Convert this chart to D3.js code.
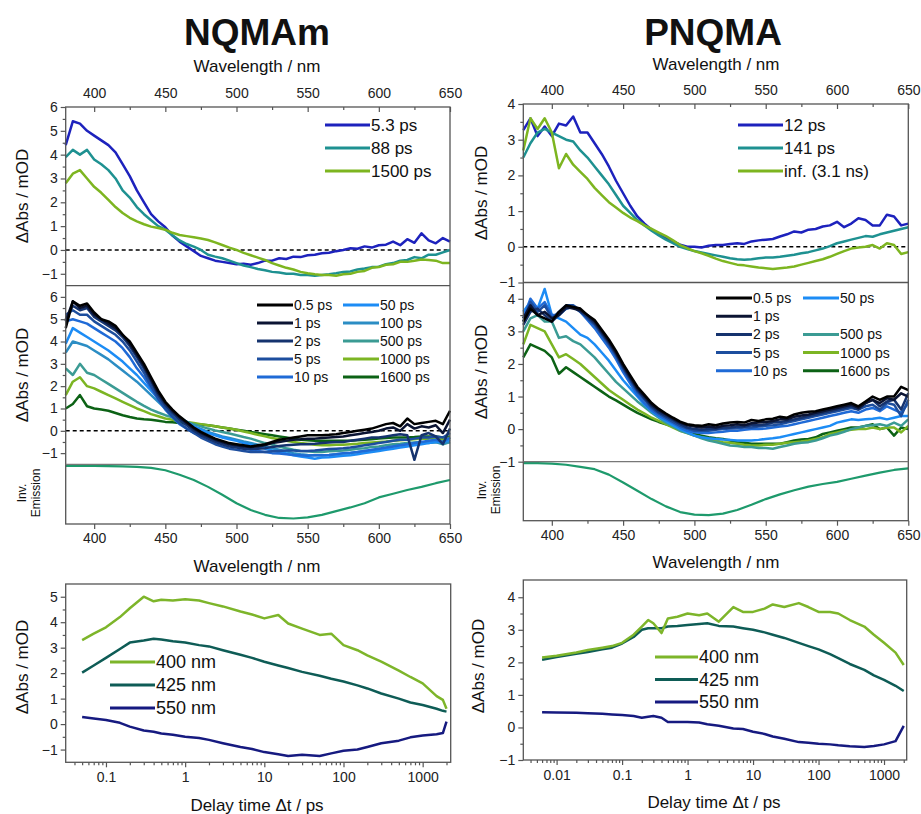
<!DOCTYPE html>
<html>
<head>
<meta charset="utf-8">
<script src="https://cdn.jsdelivr.net/npm/d3@7"></script>
<style>
body { margin: 0; background: #fff; }
svg { font-family: "Liberation Sans", Arial, sans-serif; }
.axis line { stroke: #555; stroke-width: 1.2; }
.axis text { fill: #222; font-size: 14px; font-family: "Liberation Sans", Arial, sans-serif; }
</style>
</head>
<body>
<svg width="921" height="814"></svg>
<script>
// wavelength grid (nm)
const wl = [380,385,390,395,400,405,410,415,420,425,430,435,440,445,450,455,460,465,470,475,480,485,490,495,500,505,510,515,520,525,530,535,540,545,550,555,560,565,570,575,580,585,590,595,600,605,610,615,620,625,630,635,640,645,650];
const wlEm = [380,390,400,410,420,430,440,450,460,470,480,490,500,510,520,530,540,550,560,570,580,590,600,610,620,630,640,650];

// NQMAm, decay associated spectra
const nqDas5_3 = [4.4,5.4,5.3,5.0,4.8,4.6,4.4,4.1,3.6,3.1,2.5,2.0,1.5,1.2,0.95,0.6,0.35,0.15,-0.05,-0.25,-0.35,-0.45,-0.5,-0.55,-0.6,-0.58,-0.62,-0.55,-0.45,-0.45,-0.35,-0.38,-0.28,-0.3,-0.22,-0.2,-0.14,-0.12,-0.05,0.0,0.07,0.05,0.15,0.1,0.2,0.22,0.35,0.2,0.45,0.3,0.7,0.4,0.28,0.5,0.35];
const nqDas88 = [3.9,4.2,4.0,4.2,3.8,3.6,3.35,3.0,2.5,2.2,1.8,1.5,1.25,1.0,0.85,0.62,0.4,0.25,0.14,0.0,-0.2,-0.28,-0.35,-0.45,-0.55,-0.65,-0.72,-0.8,-0.85,-0.92,-0.95,-1.0,-1.0,-1.05,-1.05,-1.08,-1.05,-1.02,-0.98,-0.92,-0.9,-0.82,-0.78,-0.72,-0.7,-0.6,-0.55,-0.45,-0.42,-0.3,-0.35,-0.2,-0.2,-0.1,0.0];
const nqDas1500 = [2.8,3.2,3.35,3.0,2.65,2.4,2.1,1.8,1.55,1.35,1.2,1.08,0.98,0.92,0.85,0.72,0.63,0.58,0.53,0.48,0.42,0.32,0.21,0.1,0.0,-0.12,-0.22,-0.32,-0.42,-0.55,-0.65,-0.75,-0.82,-0.92,-0.98,-1.02,-1.05,-1.05,-1.08,-1.02,-1.0,-0.92,-0.88,-0.75,-0.72,-0.62,-0.6,-0.5,-0.5,-0.45,-0.4,-0.42,-0.45,-0.55,-0.55];

// PNQMA, decay associated spectra
const pqDas12 = [3.27,3.6,3.1,3.37,3.1,3.45,3.4,3.65,3.2,3.2,2.9,2.6,2.25,1.85,1.5,1.15,0.85,0.65,0.48,0.35,0.24,0.15,0.06,0.0,0.0,-0.02,0.03,0.05,0.05,0.08,0.1,0.08,0.15,0.18,0.2,0.22,0.29,0.35,0.43,0.4,0.48,0.5,0.57,0.6,0.7,0.55,0.65,0.8,0.75,0.6,0.6,0.9,0.85,0.6,0.65];
const pqDas141 = [2.5,2.9,3.2,3.3,3.2,3.1,3.0,2.95,2.7,2.5,2.25,2.0,1.75,1.45,1.15,0.95,0.75,0.6,0.45,0.32,0.2,0.1,0.0,-0.06,-0.12,-0.16,-0.2,-0.24,-0.28,-0.32,-0.35,-0.36,-0.35,-0.32,-0.3,-0.3,-0.28,-0.25,-0.22,-0.18,-0.15,-0.1,-0.05,0.02,0.1,0.15,0.2,0.25,0.3,0.28,0.35,0.4,0.45,0.5,0.55];
const pqDasInf = [2.7,3.6,3.3,3.6,3.2,2.2,2.6,2.3,2.1,1.9,1.65,1.45,1.25,1.1,0.95,0.82,0.72,0.6,0.5,0.4,0.3,0.18,0.05,-0.04,-0.12,-0.18,-0.25,-0.33,-0.4,-0.45,-0.5,-0.52,-0.55,-0.58,-0.6,-0.62,-0.6,-0.58,-0.55,-0.5,-0.45,-0.4,-0.35,-0.28,-0.2,-0.12,-0.05,-0.02,0.0,0.05,-0.05,0.1,0.05,-0.2,-0.15];

// NQMAm, transient spectra
const nq0_5 = [4.6,5.8,5.6,5.7,5.3,5.0,4.9,4.7,4.3,4.0,3.5,3.0,2.4,1.8,1.3,0.95,0.65,0.4,0.15,-0.05,-0.2,-0.35,-0.45,-0.55,-0.6,-0.65,-0.7,-0.65,-0.6,-0.5,-0.4,-0.35,-0.3,-0.25,-0.2,-0.2,-0.2,-0.18,-0.15,-0.1,-0.05,0.0,0.05,0.1,0.2,0.3,0.35,0.2,0.55,0.3,0.35,0.4,0.45,0.3,0.9];
const nq1 = [4.9,5.8,5.5,5.6,5.2,5.0,4.8,4.6,4.3,3.9,3.4,2.9,2.3,1.7,1.25,0.9,0.6,0.35,0.1,-0.1,-0.25,-0.4,-0.5,-0.6,-0.65,-0.7,-0.72,-0.7,-0.65,-0.55,-0.5,-0.45,-0.4,-0.38,-0.35,-0.35,-0.32,-0.3,-0.28,-0.25,-0.2,-0.15,-0.1,-0.05,0.0,0.1,0.15,0.0,0.3,0.1,0.2,0.15,0.25,-0.1,0.5];
const nq2 = [5.0,5.6,5.4,5.5,5.1,4.9,4.7,4.5,4.2,3.8,3.3,2.8,2.2,1.6,1.15,0.8,0.5,0.25,0.0,-0.2,-0.35,-0.5,-0.6,-0.7,-0.75,-0.8,-0.82,-0.8,-0.78,-0.72,-0.68,-0.65,-0.62,-0.6,-0.6,-0.58,-0.55,-0.52,-0.5,-0.5,-0.45,-0.4,-0.35,-0.3,-0.3,-0.25,-0.2,-0.15,-0.2,-1.3,-0.2,-0.1,-0.25,-0.6,0.1];
const nq5 = [5.2,5.4,5.2,5.2,4.9,4.7,4.5,4.3,4.0,3.6,3.1,2.6,2.0,1.45,1.0,0.65,0.35,0.1,-0.1,-0.3,-0.45,-0.6,-0.7,-0.8,-0.85,-0.9,-0.95,-0.95,-0.95,-0.92,-0.9,-0.88,-0.88,-0.9,-0.9,-0.88,-0.85,-0.82,-0.8,-0.78,-0.75,-0.7,-0.65,-0.6,-0.55,-0.5,-0.45,-0.4,-0.4,-0.35,-0.3,-0.3,-0.25,-0.3,-0.1];
const nq10 = [4.9,5.0,4.9,4.8,4.6,4.4,4.2,4.0,3.7,3.3,2.8,2.4,1.9,1.4,0.95,0.6,0.3,0.1,-0.1,-0.2,-0.3,-0.42,-0.5,-0.6,-0.7,-0.78,-0.85,-0.9,-0.95,-1.0,-1.02,-1.05,-1.08,-1.1,-1.12,-1.1,-1.1,-1.08,-1.05,-1.0,-0.98,-0.95,-0.9,-0.85,-0.8,-0.75,-0.7,-0.65,-0.6,-0.55,-0.5,-0.45,-0.4,-0.5,-0.3];
const nq50 = [3.9,4.6,4.4,4.2,4.0,3.8,3.6,3.35,3.1,2.8,2.5,2.15,1.8,1.45,1.1,0.85,0.6,0.4,0.2,0.05,-0.1,-0.2,-0.3,-0.38,-0.45,-0.55,-0.62,-0.7,-0.8,-0.88,-0.95,-1.02,-1.1,-1.15,-1.2,-1.25,-1.2,-1.18,-1.15,-1.12,-1.1,-1.05,-1.0,-0.95,-0.9,-0.85,-0.8,-0.75,-0.7,-0.65,-0.6,-0.55,-0.5,-0.5,-0.4];
const nq100 = [3.5,4.0,3.9,3.8,3.6,3.4,3.2,2.95,2.7,2.45,2.2,1.9,1.6,1.3,1.0,0.75,0.55,0.35,0.2,0.08,-0.05,-0.15,-0.25,-0.32,-0.4,-0.48,-0.55,-0.62,-0.7,-0.78,-0.85,-0.92,-1.0,-1.05,-1.08,-1.1,-1.1,-1.08,-1.05,-1.02,-1.0,-0.95,-0.9,-0.88,-0.85,-0.78,-0.7,-0.65,-0.6,-0.58,-0.55,-0.52,-0.5,-0.55,-0.5];
const nq500 = [2.8,2.5,3.0,2.6,2.5,2.3,2.1,1.9,1.7,1.5,1.3,1.12,0.95,0.82,0.7,0.6,0.5,0.4,0.3,0.2,0.1,0.02,-0.05,-0.12,-0.2,-0.28,-0.35,-0.45,-0.55,-0.62,-0.7,-0.78,-0.85,-0.9,-0.92,-0.95,-0.95,-0.92,-0.9,-0.88,-0.85,-0.8,-0.78,-0.72,-0.7,-0.65,-0.6,-0.58,-0.55,-0.52,-0.5,-0.55,-0.5,-0.6,-0.5];
const nq1000 = [1.6,2.2,2.4,2.0,1.9,1.75,1.6,1.45,1.3,1.15,1.0,0.88,0.75,0.65,0.55,0.5,0.45,0.4,0.35,0.3,0.25,0.2,0.15,0.1,0.05,-0.03,-0.1,-0.18,-0.25,-0.32,-0.38,-0.45,-0.5,-0.55,-0.58,-0.62,-0.65,-0.65,-0.62,-0.62,-0.6,-0.58,-0.55,-0.52,-0.5,-0.48,-0.45,-0.42,-0.4,-0.38,-0.35,-0.35,-0.3,-0.4,-0.3];
const nq1600 = [1.0,1.2,1.6,1.1,1.0,0.95,0.9,0.8,0.7,0.62,0.55,0.52,0.5,0.45,0.4,0.38,0.35,0.32,0.3,0.28,0.25,0.2,0.15,0.1,0.05,0.0,-0.05,-0.1,-0.15,-0.2,-0.25,-0.3,-0.35,-0.4,-0.42,-0.45,-0.45,-0.45,-0.45,-0.45,-0.45,-0.42,-0.4,-0.38,-0.35,-0.32,-0.3,-0.3,-0.3,-0.28,-0.25,-0.25,-0.25,-0.3,-0.25];

// PNQMA, transient spectra
const pq0_5 = [3.3,3.7,3.5,3.4,3.3,3.6,3.8,3.75,3.7,3.5,3.35,3.05,2.75,2.4,2.0,1.65,1.3,1.05,0.8,0.62,0.48,0.35,0.23,0.15,0.12,0.1,0.15,0.12,0.17,0.2,0.22,0.2,0.28,0.25,0.3,0.32,0.38,0.35,0.45,0.5,0.53,0.55,0.6,0.65,0.7,0.75,0.8,0.7,0.85,1.0,0.9,1.0,1.0,1.3,1.2];
const pq1 = [3.4,3.8,3.5,3.6,3.4,3.5,3.75,3.7,3.65,3.5,3.3,3.0,2.7,2.35,1.95,1.6,1.25,1.0,0.75,0.58,0.45,0.32,0.2,0.12,0.08,0.05,0.08,0.05,0.1,0.12,0.15,0.12,0.18,0.2,0.22,0.25,0.3,0.3,0.38,0.42,0.45,0.5,0.55,0.6,0.65,0.7,0.75,0.65,0.8,0.9,0.8,0.95,0.9,1.1,1.0];
const pq2 = [3.2,3.6,3.7,3.5,3.3,3.5,3.7,3.75,3.6,3.45,3.25,2.95,2.65,2.3,1.9,1.55,1.2,0.95,0.7,0.52,0.4,0.28,0.15,0.05,0.0,-0.02,0.0,0.0,0.05,0.05,0.08,0.08,0.12,0.12,0.15,0.2,0.22,0.25,0.3,0.35,0.4,0.45,0.5,0.55,0.6,0.65,0.7,0.6,0.8,0.9,0.7,0.85,0.9,0.6,1.1];
const pq5 = [3.3,3.9,3.6,3.8,3.4,3.6,3.8,3.8,3.65,3.4,3.2,2.9,2.6,2.25,1.85,1.5,1.15,0.9,0.65,0.48,0.35,0.22,0.1,0.02,-0.05,-0.05,-0.05,-0.02,0.0,0.02,0.03,0.05,0.05,0.08,0.1,0.12,0.15,0.2,0.25,0.3,0.35,0.4,0.45,0.5,0.55,0.6,0.65,0.6,0.7,0.75,0.6,0.8,0.75,0.4,0.9];
const pq10 = [3.4,4.0,3.7,3.9,3.5,3.5,3.7,3.75,3.6,3.35,3.1,2.8,2.5,2.15,1.75,1.4,1.05,0.8,0.58,0.42,0.3,0.18,0.05,-0.05,-0.1,-0.12,-0.12,-0.1,-0.08,-0.05,-0.05,-0.02,0.0,0.0,0.02,0.05,0.08,0.1,0.15,0.2,0.25,0.3,0.35,0.4,0.45,0.5,0.55,0.5,0.6,0.65,0.55,0.7,0.6,0.5,0.8];
const pq50 = [3.6,3.9,3.7,4.3,3.5,3.4,3.3,3.1,2.9,2.8,2.6,2.35,2.1,1.8,1.5,1.25,1.0,0.75,0.55,0.38,0.25,0.12,0.0,-0.1,-0.2,-0.25,-0.28,-0.3,-0.32,-0.33,-0.35,-0.35,-0.35,-0.33,-0.3,-0.28,-0.25,-0.2,-0.15,-0.1,-0.05,0.0,0.05,0.1,0.2,0.25,0.3,0.28,0.3,0.32,0.35,0.3,0.35,0.4,0.4];
const pq500 = [3.0,3.4,3.5,3.3,3.3,2.8,2.85,2.7,2.6,2.4,2.2,1.95,1.7,1.45,1.25,1.05,0.85,0.68,0.5,0.35,0.2,0.08,-0.05,-0.12,-0.2,-0.28,-0.35,-0.4,-0.45,-0.5,-0.52,-0.55,-0.55,-0.58,-0.58,-0.6,-0.55,-0.5,-0.45,-0.42,-0.4,-0.35,-0.28,-0.2,-0.15,-0.08,0.0,0.05,0.1,0.12,0.15,0.1,0.2,0.1,0.3];
const pq1000 = [2.6,3.2,3.1,3.0,2.6,2.2,2.3,2.15,2.0,1.8,1.6,1.4,1.2,1.05,0.9,0.75,0.6,0.48,0.35,0.25,0.15,0.05,-0.05,-0.12,-0.2,-0.25,-0.3,-0.35,-0.4,-0.42,-0.45,-0.48,-0.5,-0.5,-0.48,-0.48,-0.45,-0.42,-0.4,-0.38,-0.35,-0.3,-0.25,-0.15,-0.1,-0.05,-0.02,0.0,0.0,0.05,0.0,0.05,0.05,-0.1,0.1];
const pq1600 = [2.2,2.6,2.5,2.4,2.2,1.7,1.9,1.75,1.6,1.45,1.3,1.15,1.0,0.88,0.75,0.62,0.5,0.4,0.3,0.22,0.15,0.08,0.0,-0.08,-0.15,-0.2,-0.25,-0.28,-0.3,-0.35,-0.4,-0.42,-0.45,-0.45,-0.45,-0.45,-0.45,-0.4,-0.35,-0.32,-0.3,-0.25,-0.15,-0.1,-0.05,0.0,0.05,0.05,0.1,0.15,0.0,0.05,-0.2,0.05,0.0];

// inverted, normalised emission
const nqEmission = [0.0,0.0,0.0,0.005,0.01,0.02,0.04,0.085,0.17,0.27,0.4,0.55,0.71,0.84,0.93,0.99,1.0,0.98,0.93,0.86,0.79,0.71,0.6,0.53,0.46,0.4,0.33,0.27];
const pqEmission = [0.0,0.0,0.01,0.03,0.07,0.115,0.22,0.37,0.53,0.69,0.83,0.94,0.99,1.0,0.97,0.9,0.8,0.69,0.6,0.52,0.45,0.4,0.36,0.3,0.24,0.18,0.13,0.1];

// kinetics
const nqTimes = [0.05,0.07,0.1,0.15,0.2,0.3,0.4,0.5,0.7,1,1.5,2,3,5,7,10,15,20,30,50,70,100,150,200,300,500,700,1000,1500,1800,2000];
const nqK400 = [3.3,3.55,3.8,4.2,4.55,5.0,4.82,4.88,4.85,4.9,4.85,4.75,4.62,4.42,4.3,4.15,4.28,3.95,3.75,3.5,3.55,3.1,2.9,2.7,2.45,2.1,1.85,1.6,1.1,0.95,0.6];
const nqK425 = [2.02,2.3,2.6,2.95,3.2,3.28,3.35,3.32,3.25,3.2,3.1,3.05,2.9,2.72,2.6,2.45,2.3,2.2,2.05,1.9,1.78,1.67,1.52,1.4,1.2,1.0,0.85,0.75,0.6,0.52,0.49];
const nqK550 = [0.28,0.22,0.16,0.05,-0.1,-0.25,-0.3,-0.37,-0.42,-0.5,-0.55,-0.62,-0.75,-0.9,-0.98,-1.1,-1.18,-1.25,-1.2,-1.25,-1.15,-1.05,-1.0,-0.9,-0.75,-0.65,-0.52,-0.45,-0.4,-0.35,0.1];
const pqTimes = [0.006,0.01,0.02,0.03,0.05,0.07,0.1,0.15,0.2,0.25,0.3,0.4,0.5,0.7,1,1.5,2,3,5,7,10,15,20,30,50,70,100,150,200,300,500,700,1000,1500,2000];
const pqK400 = [2.15,2.2,2.3,2.38,2.45,2.5,2.6,2.85,3.1,3.3,3.2,2.9,3.35,3.4,3.5,3.45,3.5,3.25,3.7,3.55,3.55,3.65,3.78,3.7,3.82,3.7,3.55,3.55,3.5,3.3,3.1,2.85,2.6,2.3,1.92];
const pqK425 = [2.08,2.16,2.26,2.32,2.4,2.45,2.58,2.78,3.0,3.05,3.05,3.05,3.1,3.12,3.15,3.18,3.2,3.12,3.1,3.05,3.0,2.92,2.85,2.75,2.6,2.5,2.4,2.25,2.13,1.95,1.77,1.6,1.46,1.28,1.12];
const pqK550 = [0.47,0.46,0.45,0.44,0.42,0.4,0.38,0.35,0.3,0.33,0.35,0.3,0.17,0.17,0.17,0.15,0.1,0.05,-0.03,-0.05,-0.13,-0.2,-0.28,-0.35,-0.45,-0.47,-0.5,-0.52,-0.55,-0.58,-0.6,-0.57,-0.52,-0.42,0.05];

const col = {
    k0_5: "#000000", k1: "#0b1433", k2: "#15336e", k5: "#1d4e9e", k10: "#1f6ad6",
    k50: "#1c8cf5", k100: "#2b8dc4", k500: "#3b9b94", k1000: "#7cb523", k1600: "#0c6215",
    das1: "#1d22bd", das2: "#1e9191", das3: "#7db520", em: "#1e9a6c",
    l400: "#7db52a", l425: "#0e5c56", l550: "#161a80"
};

const svg = d3.select("svg");

const addAxis = (axis, tx, ty) => {
    const g = svg.append("g").attr("class", "axis")
        .attr("transform", "translate(" + tx + "," + ty + ")")
        .call(axis);
    g.select(".domain").remove();
    return g;
};

const hline = (x0, x1, y, color, w, dash) => {
    svg.append("line").attr("x1", x0).attr("x2", x1).attr("y1", y).attr("y2", y)
        .attr("stroke", color).attr("stroke-width", w)
        .attr("stroke-dasharray", dash || null);
};

const drawSeries = (x, y, xs, ys, color, w) => {
    const line = d3.line().x((d, i) => x(xs[i])).y(d => y(d));
    svg.append("path").datum(ys)
        .attr("fill", "none").attr("stroke", color)
        .attr("stroke-width", w || 2.5).attr("stroke-linejoin", "round")
        .attr("d", line);
};

const addText = (txt, x, y, size, opts = {}) => {
    const t = svg.append("text").attr("x", x).attr("y", y)
        .attr("font-size", size).attr("fill", "#111")
        .attr("text-anchor", opts.anchor || "middle")
        .attr("font-weight", opts.bold ? "bold" : null)
        .text(txt);
    if (opts.rotate) t.attr("transform", "rotate(-90," + x + "," + y + ")");
    return t;
};

const yLabel = (x, y) => addText("\u0394Abs / mOD", x, y, 17, { rotate: true });

const legend = (items, x, y, dy, len, size) => {
    items.forEach((it, i) => {
        if (!it) return;
        const yy = y + i * dy;
        svg.append("line").attr("x1", x).attr("x2", x + len).attr("y1", yy).attr("y2", yy)
            .attr("stroke", it[1]).attr("stroke-width", 3);
        addText(it[0], x + len + 1, yy + size * 0.36, size, { anchor: "start" });
    });
};

const yAxes = (y, x0, major, minor) => {
    addAxis(d3.axisLeft(y).tickValues(major).tickSize(5).tickPadding(3).tickFormat(d3.format("d")), x0, 0);
    addAxis(d3.axisLeft(y).tickValues(minor).tickSize(3).tickFormat(""), x0, 0);
};

// ---- wavelength columns ----
const spectraColumn = (c) => {
    const x = d3.scaleLinear().domain([380, 650]).range([c.x0, c.x1]);
    const yA = d3.scaleLinear().domain(c.domA).range([c.yB, c.yA]);
    const yB = d3.scaleLinear().domain(c.domB).range([c.yC, c.yB]);
    const yE = d3.scaleLinear().domain([0, 1]).range([c.yC + 1.5, c.yD - 5.5]);
    const majX = [400, 450, 500, 550, 600, 650];
    const minX = [425, 475, 525, 575, 625];

    // top axis (ticks inward)
    addAxis(d3.axisTop(x).tickValues(majX).tickSize(-5).tickPadding(9), 0, c.yA);
    addAxis(d3.axisTop(x).tickValues(minX).tickSize(-3).tickFormat(""), 0, c.yA);
    // bottom axis
    addAxis(d3.axisBottom(x).tickValues(majX).tickSize(5).tickPadding(4), 0, c.yD);
    addAxis(d3.axisBottom(x).tickValues(minX).tickSize(3).tickFormat(""), 0, c.yD);

    yAxes(yA, c.x0, c.majA, c.minA);
    yAxes(yB, c.x0, c.majB, c.minB);

    hline(c.x0, c.x1, yA(0), "#000", 1.5, "4,3");
    if (c.zeroB) hline(c.x0, c.x1, yB(0), "#000", 1.5, "4,3");

    c.seriesA.forEach(s => drawSeries(x, yA, wl, s[0], s[1]));
    c.seriesB.slice().reverse().forEach(s => drawSeries(x, yB, wl, s[0], s[1]));
    drawSeries(x, yE, wlEm, c.emission, col.em, 2.2);

    // frame
    svg.append("rect").attr("x", c.x0).attr("y", c.yA).attr("width", c.x1 - c.x0)
        .attr("height", c.yD - c.yA).attr("fill", "none").attr("stroke", "#555").attr("stroke-width", 1.3);
    hline(c.x0, c.x1, c.yB, "#555", 1.3);
    hline(c.x0, c.x1, c.yC, "#777", 1.3);
};

spectraColumn({
    x0: 65.7, x1: 450, yA: 107, yB: 285.7, yC: 464.3, yD: 524,
    domA: [-1.5, 6], domB: [-1.5, 6.5],
    majA: [-1, 0, 1, 2, 3, 4, 5, 6], majB: [-1, 0, 1, 2, 3, 4, 5, 6],
    minA: [-0.5, 0.5, 1.5, 2.5, 3.5, 4.5, 5.5], minB: [-0.5, 0.5, 1.5, 2.5, 3.5, 4.5, 5.5],
    zeroB: true,
    seriesA: [[nqDas5_3, col.das1], [nqDas88, col.das2], [nqDas1500, col.das3]],
    seriesB: [[nq0_5, col.k0_5], [nq1, col.k1], [nq2, col.k2], [nq5, col.k5], [nq10, col.k10],
              [nq50, col.k50], [nq100, col.k100], [nq500, col.k500], [nq1000, col.k1000], [nq1600, col.k1600]],
    emission: nqEmission
});

spectraColumn({
    x0: 523.3, x1: 908.3, yA: 104, yB: 282.5, yC: 461.7, yD: 520.7,
    domA: [-1, 4], domB: [-1, 4.5],
    majA: [-1, 0, 1, 2, 3, 4], majB: [-1, 0, 1, 2, 3, 4],
    minA: [-0.5, 0.5, 1.5, 2.5, 3.5], minB: [-0.5, 0.5, 1.5, 2.5, 3.5],
    zeroB: false,
    seriesA: [[pqDas12, col.das1], [pqDas141, col.das2], [pqDasInf, col.das3]],
    seriesB: [[pq0_5, col.k0_5], [pq1, col.k1], [pq2, col.k2], [pq5, col.k5], [pq10, col.k10],
              [pq50, col.k50], [pq500, col.k500], [pq1000, col.k1000], [pq1600, col.k1600]],
    emission: pqEmission
});

// ---- kinetics ----
const kineticsPanel = (c) => {
    const x = d3.scaleLog().domain(c.xDom).range([c.x0, c.x1]);
    const y = d3.scaleLinear().domain(c.yDom).range([c.y1, c.y0]);
    const minors = [];
    [0.001, 0.01, 0.1, 1, 10, 100, 1000].forEach(d => {
        for (let k = 2; k <= 9; k++) {
            const v = d * k;
            if (v > c.xDom[0] && v < c.xDom[1]) minors.push(v);
        }
    });
    addAxis(d3.axisBottom(x).tickValues(c.xMajor).tickSize(5).tickPadding(5).tickFormat(d3.format("~g")), 0, c.y1);
    addAxis(d3.axisBottom(x).tickValues(minors).tickSize(3).tickFormat(""), 0, c.y1);
    yAxes(y, c.x0, c.yMajor, c.yMinor);

    c.series.forEach(s => drawSeries(x, y, c.times, s[0], s[1]));

    svg.append("rect").attr("x", c.x0).attr("y", c.y0).attr("width", c.x1 - c.x0)
        .attr("height", c.y1 - c.y0).attr("fill", "none").attr("stroke", "#555").attr("stroke-width", 1.3);
};

kineticsPanel({
    x0: 65.7, x1: 450.7, y0: 584, y1: 762.3, xDom: [0.031, 2260], yDom: [-1.5, 5.5],
    xMajor: [0.1, 1, 10, 100, 1000],
    yMajor: [-1, 0, 1, 2, 3, 4, 5], yMinor: [-0.5, 0.5, 1.5, 2.5, 3.5, 4.5],
    times: nqTimes,
    series: [[nqK550, col.l550], [nqK425, col.l425], [nqK400, col.l400]]
});

kineticsPanel({
    x0: 523.3, x1: 906.7, y0: 580, y1: 760, xDom: [0.0031, 2220], yDom: [-1, 4.53],
    xMajor: [0.01, 0.1, 1, 10, 100, 1000],
    yMajor: [-1, 0, 1, 2, 3, 4], yMinor: [-0.5, 0.5, 1.5, 2.5, 3.5],
    times: pqTimes,
    series: [[pqK550, col.l550], [pqK425, col.l425], [pqK400, col.l400]]
});

// ---- titles and labels ----
addText("NQMAm", 257, 45, 37, { bold: true });
addText("PNQMA", 713, 45, 37, { bold: true });
addText("Wavelength / nm", 257, 72, 17);
addText("Wavelength / nm", 716, 70, 17);
addText("Wavelength / nm", 257, 572, 17);
addText("Wavelength / nm", 716, 568, 17);
addText("Delay time \u0394t / ps", 257, 811, 17);
addText("Delay time \u0394t / ps", 714, 808, 17);

yLabel(28, 196);
yLabel(28, 375);
yLabel(28, 667);
yLabel(487, 193);
yLabel(487, 372);
yLabel(484, 666);

[[27, 493, 12, 13], [487, 490, 12, 13]].forEach(p => {
    addText("Inv.", p[0] - 1, p[1], p[2], { rotate: true });
    addText("Emission", p[0] + p[3], p[1], p[2], { rotate: true });
});

// ---- legends ----
legend([["5.3 ps", col.das1], ["88 ps", col.das2], ["1500 ps", col.das3]], 325, 125, 23, 45, 17);
legend([["12 ps", col.das1], ["141 ps", col.das2], ["inf. (3.1 ns)", col.das3]], 738, 125, 23, 45, 17);

legend([["0.5 ps", col.k0_5], ["1 ps", col.k1], ["2 ps", col.k2], ["5 ps", col.k5], ["10 ps", col.k10]], 257, 305, 18, 36, 14);
legend([["50 ps", col.k50], ["100 ps", col.k100], ["500 ps", col.k500], ["1000 ps", col.k1000], ["1600 ps", col.k1600]], 343, 305, 18, 36, 14);
legend([["0.5 ps", col.k0_5], ["1 ps", col.k1], ["2 ps", col.k2], ["5 ps", col.k5], ["10 ps", col.k10]], 716, 298, 18.2, 36, 14);
legend([["50 ps", col.k50], null, ["500 ps", col.k500], ["1000 ps", col.k1000], ["1600 ps", col.k1600]], 803, 298, 18.2, 36, 14);

legend([["400 nm", col.l400], ["425 nm", col.l425], ["550 nm", col.l550]], 110, 662, 23, 45, 18);
legend([["400 nm", col.l400], ["425 nm", col.l425], ["550 nm", col.l550]], 655, 657, 22.5, 43, 18);
</script>
</body>
</html>
